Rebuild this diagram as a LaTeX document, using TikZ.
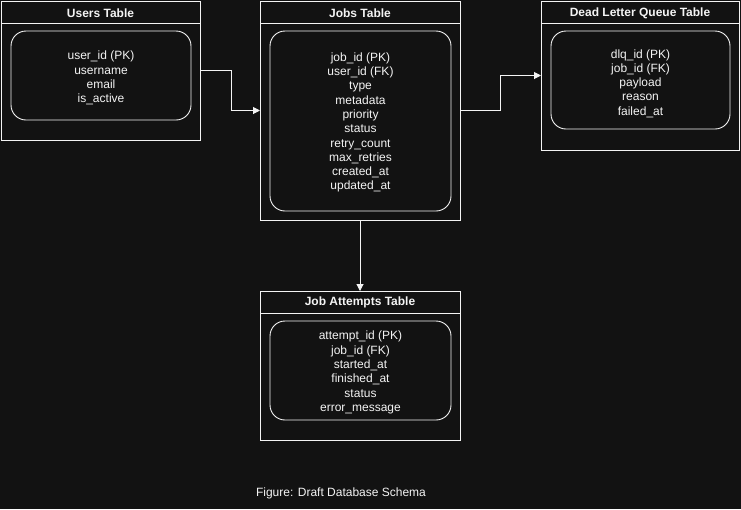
\documentclass[tikz,border=0pt]{standalone}
\usepackage{fontspec}
\setmainfont{Liberation Sans}
\usetikzlibrary{arrows.meta}
\definecolor{bg}{HTML}{121212}
\definecolor{ink}{HTML}{F4F4F4}
\begin{document}
\begin{tikzpicture}[x=1pt,y=-1pt,
  every node/.style={inner sep=0pt, outer sep=0pt},
  tablebox/.style={draw=ink, line width=1pt, rectangle, anchor=north west},
  headline/.style={draw=ink, line width=1pt},
  tabletitle/.style={text=ink, font=\bfseries\fontsize{12}{14}\selectfont},
  fieldbox/.style={draw=ink, line width=0.9pt, rounded corners=15pt},
  fieldtext/.style={text=ink, align=center, font=\fontsize{12}{14.3}\selectfont},
  link/.style={draw=ink, line width=1pt, -{Triangle[length=7pt,width=7pt]}},
  caption/.style={text=ink, font=\fontsize{12}{14}\selectfont}]
\fill[bg] (0,0) rectangle (741,509);
\useasboundingbox (0,0) rectangle (741,509);

% Users
\node[tablebox, minimum width=199pt, minimum height=139pt] (users) at (1,1) {};
\draw[headline] ([yshift=-22pt]users.north west) -- ([yshift=-22pt]users.north east);
\node[tabletitle] (usersT) at ([yshift=-12pt]users.north) {Users Table};
\node[fieldbox, minimum width=180pt, minimum height=89pt] (usersF) at (101,75.5) {};
\node[fieldtext] (usersL) at ([yshift=-2.5pt]usersF.center)
  {user\_id (PK)\\username\\email\\is\_active};

% Jobs
\node[tablebox, minimum width=200pt, minimum height=219pt] (jobs) at (260,1) {};
\draw[headline] ([yshift=-22pt]jobs.north west) -- ([yshift=-22pt]jobs.north east);
\node[tabletitle] (jobsT) at ([yshift=-12pt]jobs.north) {Jobs Table};
\node[fieldbox, minimum width=181pt, minimum height=180pt] (jobsF) at (360.5,121) {};
\node[fieldtext] (jobsL) at ([yshift=-1.5pt]jobsF.center)
  {job\_id (PK)\\user\_id (FK)\\type\\metadata\\priority\\status\\retry\_count\\max\_retries\\created\_at\\updated\_at};

% Dead letter queue
\node[tablebox, minimum width=198pt, minimum height=149pt] (dlq) at (541,1) {};
\draw[headline] ([yshift=-22pt]dlq.north west) -- ([yshift=-22pt]dlq.north east);
\node[tabletitle] (dlqT) at ([yshift=-12pt]dlq.north) {Dead Letter Queue Table};
\node[fieldbox, minimum width=179pt, minimum height=98pt] (dlqF) at (640.5,80) {};
\node[fieldtext] (dlqL) at ([yshift=-3.5pt]dlqF.center)
  {dlq\_id (PK)\\job\_id (FK)\\payload\\reason\\failed\_at};

% Job attempts
\node[tablebox, minimum width=200pt, minimum height=149pt] (att) at (260,291) {};
\draw[headline] ([yshift=-22pt]att.north west) -- ([yshift=-22pt]att.north east);
\node[tabletitle] (attT) at ([yshift=-11.5pt]att.north) {Job Attempts Table};
\node[fieldbox, minimum width=181pt, minimum height=99pt] (attF) at (360.5,370.5) {};
\node[fieldtext] (attL) at ([yshift=-2pt]attF.center)
  {attempt\_id (PK)\\job\_id (FK)\\started\_at\\finished\_at\\status\\error\_message};

% Relations
\draw[link] (users.east) -- ++(31,0) |- (jobs.west);
\draw[link] (jobs.east) -- ++(40,0) |- (dlq.west);
\draw[link] (jobs.south) -- (att.north);

\node[caption] (cap) at (341,493) {Figure: Draft Database Schema};
\end{tikzpicture}
\end{document}
